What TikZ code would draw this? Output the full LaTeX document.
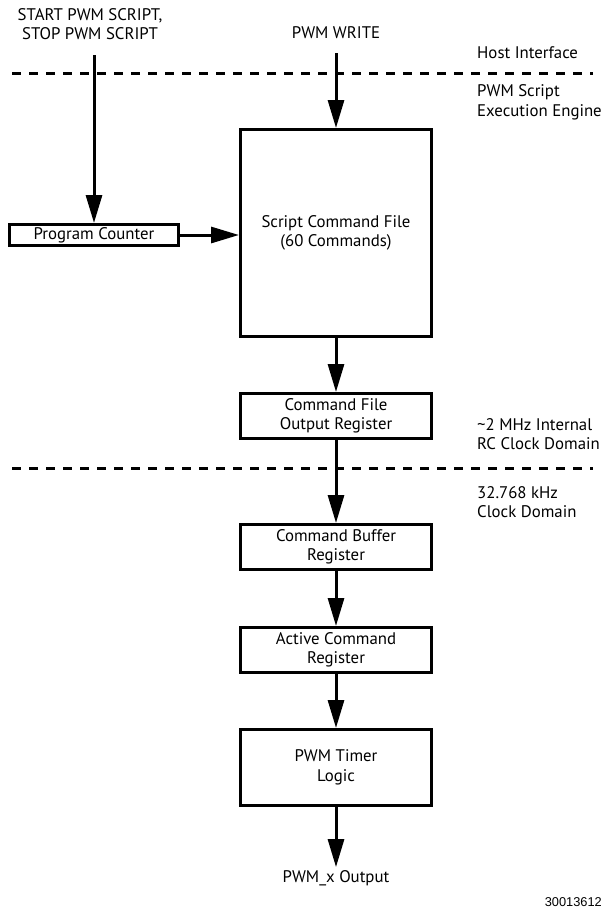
\documentclass[tikz,border=0pt]{standalone}
\usepackage{fontspec}
\setmainfont{PT Sans}
\newfontfamily\figfont{Liberation Sans}
\usetikzlibrary{arrows.meta}

\begin{document}
\begin{tikzpicture}[x=1pt,y=-1pt,node distance=131pt,
    font=\fontsize{16.8}{19.5}\selectfont,
    block/.style={draw,line width=3pt,minimum width=191pt,minimum height=45pt,
                  align=center,inner sep=0pt},
    flow/.style={line width=3pt,-{Triangle[length=28pt,width=16pt]}},
    domainlabel/.style={anchor=west,align=left,inner sep=0pt},
    boundary/.style={line width=3pt,dash pattern=on 9pt off 8pt}]
      \useasboundingbox (0,0) rectangle (603,918);

      % inputs from the host
      \node (startstop) [align=center,inner sep=0pt] at (90,24)
            {START PWM SCRIPT,\\STOP PWM SCRIPT};
      \node (write) [inner sep=0pt] at (336,33) {PWM WRITE};
      \coordinate (startin) at (94,55);
      \coordinate (writein) at (336,53);

      % script engine and clock chain
      \node (scf) [block,minimum height=207pt] at (336,233)
            {Script Command File\\(60 Commands)};
      \node (pc)  [block,minimum width=169pt,minimum height=21pt] at (94,235)
            {Program Counter};
      \node (cfo) [block,below of=scf,node distance=183pt]
            {Command File\\Output Register};
      \node (cbr) [block,below of=cfo] {Command Buffer\\Register};
      \node (acr) [block,below of=cbr,node distance=103pt]
            {Active Command\\Register};
      \node (ptl) [block,below of=acr,node distance=117.5pt,minimum height=76pt]
            {PWM Timer\\Logic};
      \node (out) [below of=ptl,node distance=110.5pt,inner sep=3pt]
            {PWM\_x Output};

      \draw [flow] (startin) -- (pc);
      \draw [flow] (writein) -- (scf);
      \draw [flow] (pc.east) -- (pc.east -| scf.west);
      \draw [flow] (scf) -- (cfo);
      \draw [flow] (cfo) -- (cbr);
      \draw [flow] (cbr) -- (acr);
      \draw [flow] (acr) -- (ptl);
      \draw [flow] (ptl) -- (out);

      % domain boundaries
      \foreach \y in {73,468}
        \draw [boundary] (12,\y) -- (593,\y);

      \node (host)   [domainlabel] at (477,53)  {Host Interface};
      \node (engine) [domainlabel] at (477,102.5) {PWM Script\\Execution Engine};
      \node (rcdom)  [domainlabel] at (477,434) {\textasciitilde 2 MHz Internal\\RC Clock Domain};
      \node (kdom)   [domainlabel] at (477,502) {32.768 kHz\\Clock Domain};

      \node (figno) [anchor=east,inner sep=0pt,font=\figfont\fontsize{12.8}{15}\selectfont]
            at (602,902) {30013612};
    \end{tikzpicture}
\end{document}
